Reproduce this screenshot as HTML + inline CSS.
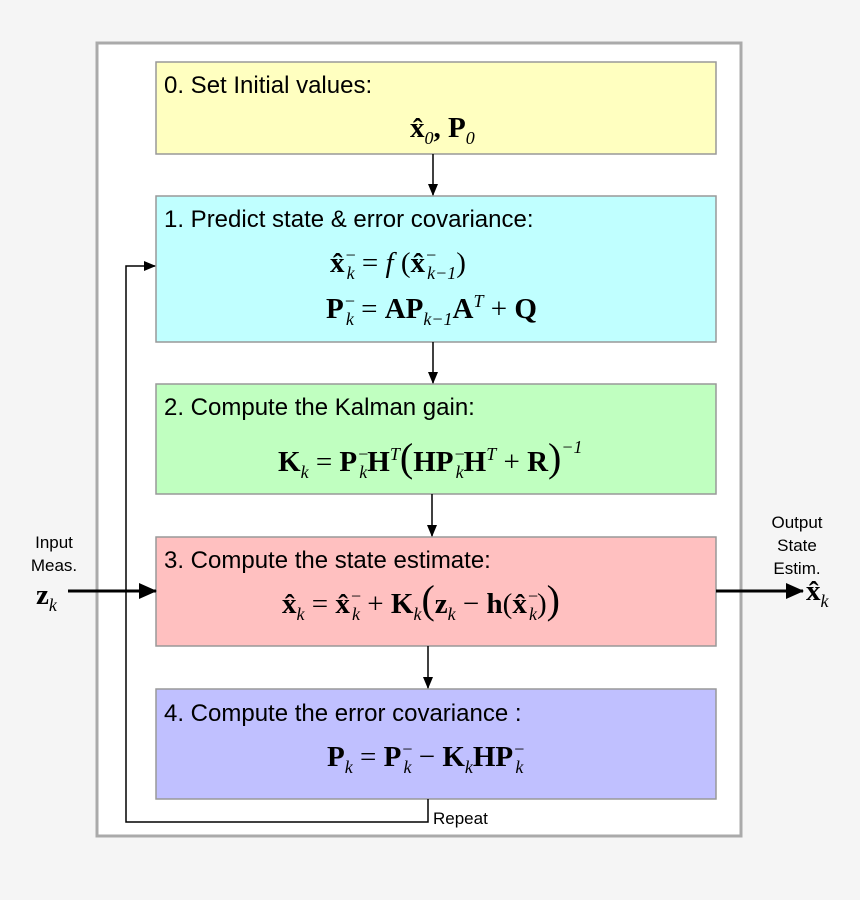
<!DOCTYPE html>
<html><head><meta charset="utf-8"><style>
html,body{margin:0;padding:0;background:#f5f5f5;}
svg{display:block}
.t{font-family:"Liberation Sans",sans-serif;font-size:24px;fill:#000}
.s{font-family:"Liberation Sans",sans-serif;font-size:17px;fill:#000}
.m{font-family:"Liberation Serif",serif;font-size:29px;font-weight:bold;fill:#000}
.i{font-style:italic;font-weight:normal;font-size:18px}
.n{font-weight:normal}
</style></head><body>
<svg width="860" height="900" viewBox="0 0 860 900" xmlns="http://www.w3.org/2000/svg">
<defs><marker id="a" markerWidth="12" markerHeight="14" refX="11" refY="5" orient="auto" markerUnits="userSpaceOnUse"><path d="M0,0 L12,5 L0,10 z" fill="#000"/></marker>
<marker id="b" markerWidth="18" markerHeight="16" refX="17" refY="8" orient="auto" markerUnits="userSpaceOnUse"><path d="M0,0 L18,8 L0,16 z" fill="#000"/></marker></defs>
<rect x="97" y="43" width="644" height="793" fill="#fff" stroke="#aaa" stroke-width="3"/>
<rect x="156" y="62" width="560" height="92" fill="#ffffc0" stroke="#999" stroke-width="1.5"/>
<rect x="156" y="196" width="560" height="146" fill="#c0ffff" stroke="#999" stroke-width="1.5"/>
<rect x="156" y="384" width="560" height="110" fill="#c0ffc0" stroke="#999" stroke-width="1.5"/>
<rect x="156" y="537" width="560" height="109" fill="#ffc0c0" stroke="#999" stroke-width="1.5"/>
<rect x="156" y="689" width="560" height="110" fill="#c0c0ff" stroke="#999" stroke-width="1.5"/>
<g stroke="#000" stroke-width="1.5" fill="none">
<line x1="433" y1="154" x2="433" y2="195" marker-end="url(#a)"/>
<line x1="433" y1="342" x2="433" y2="383" marker-end="url(#a)"/>
<line x1="432" y1="494" x2="432" y2="536" marker-end="url(#a)"/>
<line x1="428" y1="646" x2="428" y2="688" marker-end="url(#a)"/>
<polyline points="428,799 428,822 126,822 126,266 155,266" marker-end="url(#a)"/>
</g>
<g stroke="#000" stroke-width="3">
<line x1="68" y1="591" x2="156" y2="591" marker-end="url(#b)"/>
<line x1="716" y1="591" x2="803" y2="591" marker-end="url(#b)"/>
</g>
<text class="t" x="164" y="93">0. Set Initial values:</text>
<text class="t" x="164" y="227">1. Predict state &amp; error covariance:</text>
<text class="t" x="164" y="415">2. Compute the Kalman gain:</text>
<text class="t" x="164" y="568">3. Compute the state estimate:</text>
<text class="t" x="164" y="721">4. Compute the error covariance :</text>
<text class="s" x="433" y="824">Repeat</text>
<text class="s" x="54" y="548" text-anchor="middle">Input</text>
<text class="s" x="54" y="571" text-anchor="middle">Meas.</text>
<text class="s" x="797" y="528" text-anchor="middle">Output</text>
<text class="s" x="797" y="551" text-anchor="middle">State</text>
<text class="s" x="797" y="574" text-anchor="middle">Estim.</text>
<text class="m" x="36" y="604">z<tspan class="i" dy="7">k</tspan></text>
<text class="m" x="806" y="600">x̂<tspan class="i" dy="7">k</tspan></text>
<text class="m" x="410" y="137">x̂<tspan class="i n" dy="7">0</tspan><tspan dy="-7">,  P</tspan><tspan class="i n" dy="7">0</tspan></text>
<text class="m" x="330" y="272">x̂<tspan class="i" dy="-11">−</tspan><tspan class="i" dx="-10" dy="18">k</tspan><tspan class="n" dy="-7"> = </tspan><tspan class="n" font-style="italic">f</tspan><tspan class="n"> (</tspan>x̂<tspan class="i" dy="-11">−</tspan><tspan class="i" dx="-10" dy="18">k−1</tspan><tspan class="n" dy="-7">)</tspan></text>
<text class="m" x="326" y="318">P<tspan class="i" dy="-11">−</tspan><tspan class="i" dx="-10" dy="18">k</tspan><tspan class="n" dy="-7"> = </tspan>AP<tspan class="i" dy="7">k−1</tspan><tspan dy="-7">A</tspan><tspan class="i" dy="-11">T</tspan><tspan class="n" dy="11"> + </tspan>Q</text>
<text class="m" x="278" y="471">K<tspan class="i" dy="7">k</tspan><tspan class="n" dy="-7"> = </tspan>P<tspan class="i" dy="-11">−</tspan><tspan class="i" dx="-10" dy="18">k</tspan><tspan dy="-7">H</tspan><tspan class="i" dy="-11">T</tspan><tspan class="n" dy="11" font-size="40">(</tspan>HP<tspan class="i" dy="-11">−</tspan><tspan class="i" dx="-10" dy="18">k</tspan><tspan dy="-7">H</tspan><tspan class="i" dy="-11">T</tspan><tspan class="n" dy="11"> + </tspan>R<tspan class="n" font-size="40">)</tspan><tspan class="i" dy="-18">−1</tspan></text>
<text class="m" x="282" y="613">x̂<tspan class="i" dy="7">k</tspan><tspan class="n" dy="-7"> = </tspan>x̂<tspan class="i" dy="-11">−</tspan><tspan class="i" dx="-10" dy="18">k</tspan><tspan class="n" dy="-7"> + </tspan>K<tspan class="i" dy="7">k</tspan><tspan class="n" dy="-7" font-size="40">(</tspan>z<tspan class="i" dy="7">k</tspan><tspan class="n" dy="-7"> − </tspan>h<tspan class="n">(</tspan>x̂<tspan class="i" dy="-11">−</tspan><tspan class="i" dx="-10" dy="18">k</tspan><tspan class="n" dy="-7">)</tspan><tspan class="n" font-size="40">)</tspan></text>
<text class="m" x="327" y="766">P<tspan class="i" dy="7">k</tspan><tspan class="n" dy="-7"> = </tspan>P<tspan class="i" dy="-11">−</tspan><tspan class="i" dx="-10" dy="18">k</tspan><tspan class="n" dy="-7"> − </tspan>K<tspan class="i" dy="7">k</tspan><tspan dy="-7">HP</tspan><tspan class="i" dy="-11">−</tspan><tspan class="i" dx="-10" dy="18">k</tspan></text>
</svg>
</body></html>
